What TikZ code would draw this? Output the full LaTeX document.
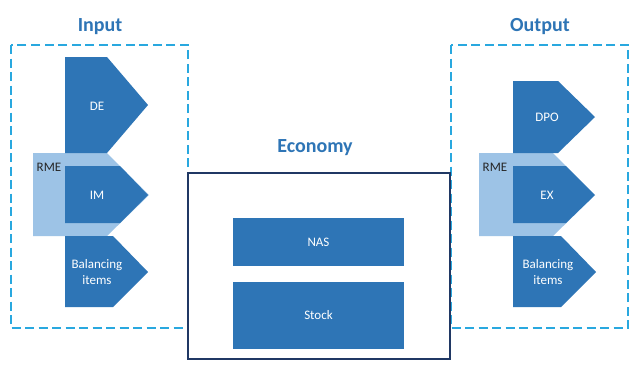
\documentclass[tikz,border=0pt]{standalone}
\usepackage{fontspec}
\setmainfont{Carlito}
\definecolor{dkblue}{HTML}{2E75B6}
\definecolor{ltblue}{HTML}{9DC3E6}
\definecolor{dashcol}{HTML}{29A8DF}
\definecolor{navy}{HTML}{203864}
\begin{document}
\begin{tikzpicture}[x=1pt,y=-1pt,
  dashbox/.style={draw=dashcol,line width=1.6pt,dash pattern=on 9pt off 4.5pt},
  title/.style={text=dkblue,font=\fontsize{20}{22}\selectfont\bfseries},
  lbl/.style={text=white,font=\fontsize{13}{16}\selectfont,align=center},
  rme/.style={text=black!85,font=\fontsize{13}{15}\selectfont},
  darkfill/.style={fill=dkblue},
  lightfill/.style={fill=ltblue}]
\useasboundingbox (0,0) rectangle (633,365);
\fill[white] (0,0) rectangle (633,365);
% dashed frames
\draw[dashbox] (11,45) rectangle (188,328);
\draw[dashbox] (451,45) rectangle (628,328);
\node[title] (tin) at (100,27) {Input};
\node[title] (tout) at (540,27) {Output};
% input shapes
\fill[lightfill] (33,153) -- (107,153) -- (149,195) -- (107,236) -- (33,236) -- cycle;
\fill[darkfill] (65,57) -- (107,57) -- (148,105) -- (107,153) -- (65,153) -- cycle;
\fill[darkfill] (65,166) -- (120,166) -- (148,195) -- (120,223) -- (65,223) -- cycle;
\fill[darkfill] (65,236) -- (113,236) -- (148,272) -- (113,307) -- (65,307) -- cycle;
\node[lbl] (de) at (97,106) {DE};
\node[lbl] (im) at (97,195) {IM};
\node[lbl] (bi) at (97,272) {Balancing\\items};
\node[rme] (rmei) at (49,167) {RME};
% output shapes
\fill[lightfill] (479,153) -- (553,153) -- (595,195) -- (553,236) -- (479,236) -- cycle;
\fill[darkfill] (513,81) -- (558,81) -- (595,117) -- (558,153) -- (513,153) -- cycle;
\fill[darkfill] (513,166) -- (566,166) -- (595,195) -- (566,223) -- (513,223) -- cycle;
\fill[darkfill] (513,236) -- (561,236) -- (596,272) -- (561,307) -- (513,307) -- cycle;
\node[lbl] (dpo) at (547,117) {DPO};
\node[lbl] (ex) at (547,195) {EX};
\node[lbl] (bo) at (548,272) {Balancing\\items};
\node[rme] (rmeo) at (495,167) {RME};
% economy
\draw[navy,line width=1.5pt,fill=white] (188,173) rectangle (450,359);
\node[title] (eco) at (315,148) {Economy};
\node[darkfill,minimum width=171pt,minimum height=48pt,inner sep=0pt,lbl] (nas) at (318.5,242) {NAS};
\node[darkfill,minimum width=171pt,minimum height=67pt,inner sep=0pt,lbl] (stock) at (318.5,315.5) {Stock};
\end{tikzpicture}
\end{document}
